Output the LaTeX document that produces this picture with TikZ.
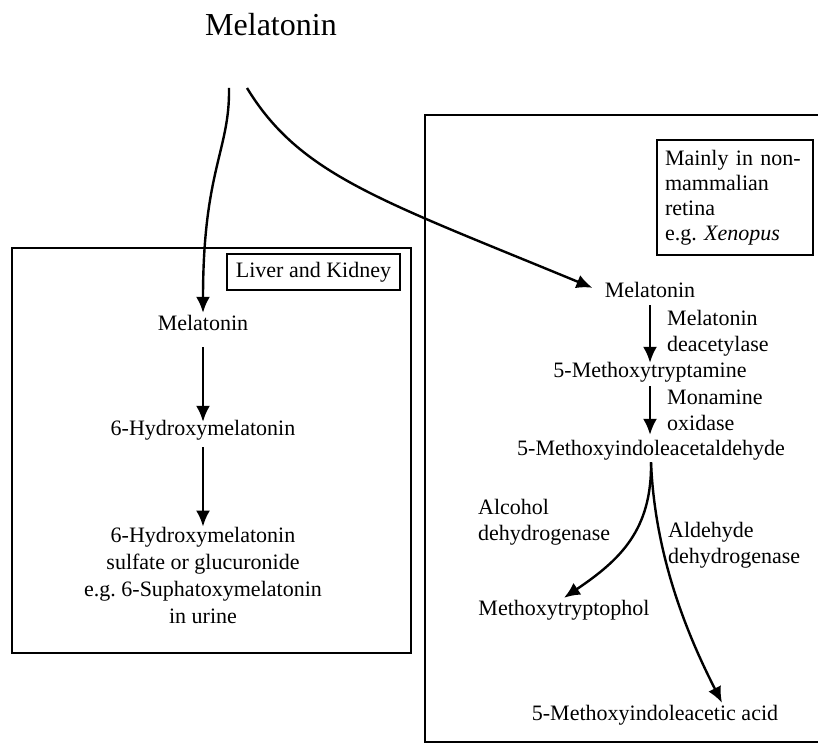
\documentclass[tikz,border=0pt]{standalone}
\usepackage{fontspec}
\setmainfont{Liberation Serif}
\usetikzlibrary{arrows.meta}
\begin{document}
\begin{tikzpicture}[x=1pt,y=-1pt,
  txt/.style={font=\fontsize{22}{27}\selectfont, inner sep=2pt, text height=15pt, text depth=5pt},
  multi/.style={font=\fontsize{22}{27}\selectfont, inner sep=2pt, align=center},
  lab/.style={font=\fontsize{22}{26}\selectfont, inner sep=0pt, align=left, anchor=west},
  frame/.style={draw, line width=2.4pt},
  tagbox/.style={draw, line width=2.4pt, font=\fontsize{22}{25}\selectfont},
  arr/.style={line width=2.4pt, -{Latex[length=16pt,width=14pt]}},
]
\useasboundingbox (0,0) rectangle (818,743);

% title
\node[font=\fontsize{32}{38}\selectfont, inner sep=0pt] (top) at (271,25) {Melatonin};
\coordinate (s1) at (229,88);
\coordinate (s2) at (247,88);

% frames
\draw[frame] (12,248) rectangle (411,653);
\draw[frame] (818,115) -- (425,115) -- (425,742) -- (818,742);

\node[tagbox, inner xsep=9pt, minimum height=36pt, text height=15pt, text depth=5pt] (lk) at (313.5,272) {Liver and Kidney};
\node[tagbox, text width=140pt, align=left, inner xsep=8pt, minimum height=115pt] (mainly) at (735,197.5)
  {Mainly in non-\\mammalian\\retina\\e.g.\ \textit{Xenopus}};

% left column
\node[txt] (L1) at (203,325) {Melatonin};
\node[txt] (L2) at (203,430) {6-Hydroxymelatonin};
\node[multi] (L3) at (203,575) {6-Hydroxymelatonin\\sulfate or glucuronide\\e.g.\ 6-Suphatoxymelatonin\\in urine};

% right column
\node[txt] (R1) at (650,292) {Melatonin};
\node[txt] (R2) at (650,372) {5-Methoxytryptamine};
\node[txt] (R3) at (651,450) {5-Methoxyindoleacetaldehyde};
\node[txt] (R4) at (564,610) {Methoxytryptophol};
\node[txt] (R5) at (655,715) {5-Methoxyindoleacetic acid};

\node[lab] (e1) at (667,333) {Melatonin\\deacetylase};
\node[lab] (e2) at (667,410) {Monamine\\oxidase};
\node[lab] (e3) at (478,522) {Alcohol\\dehydrogenase};
\node[lab] (e4) at (668,545) {Aldehyde\\dehydrogenase};

% arrows
\draw[arr] (s1) .. controls (230,150) and (203,170) .. (L1.north);
\draw[arr, shorten >=11pt] (s2) .. controls (300,175) and (380,200) .. (R1.west);
\draw[arr, shorten <=10pt, shorten >=-4pt] (L1) -- (L2);
\draw[arr, shorten <=5pt, shorten >=-2pt] (L2) -- (L3);
\draw[arr, shorten <=1pt, shorten >=-3pt] (R1.south) -- (R1.south |- R2.north);
\draw[arr, shorten <=2pt, shorten >=3pt] (R2.south) -- (R2.south |- R3.north);
\draw[arr] (R3.south) .. controls (652,530) and (620,560) .. (R4.north);
\draw[arr] (R3.south) .. controls (655,560) and (690,640) .. ([xshift=67pt]R5.north);
\end{tikzpicture}
\end{document}
